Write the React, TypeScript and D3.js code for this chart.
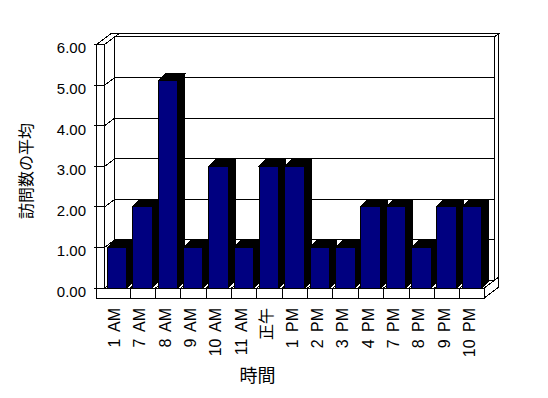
import React, { useEffect, useRef } from 'react';
import * as d3 from 'd3';

const categories = ['1 AM', '7 AM', '8 AM', '9 AM', '10 AM', '11 AM', '正午', '1 PM', '2 PM', '3 PM', '4 PM', '7 PM', '8 PM', '9 PM', '10 PM'];
const visits = [1, 2, 5.1, 1, 3, 1, 3, 3, 1, 1, 2, 2, 1, 2, 2];
const yTicks = [0, 1, 2, 3, 4, 5, 6];
const xTitle = '時間';
const yTitle = '訪問数の平均';

export default function App() {
  const svgRef = useRef<SVGSVGElement | null>(null);

  useEffect(() => {
    const svg = d3.select(svgRef.current);
    svg.selectAll('*').remove();

    const width = 548;
    const height = 398;
    svg.attr('width', width).attr('height', height);

    // front plane of the 3d box
    const x0 = 104.8;
    const x1 = 484.3;
    const wallX = 96.7; // outer face of the side wall
    const floorH = 10; // thickness of the floor slab
    const KX = 10; // depth offset to back wall
    const KY = 7.5;
    const T = 0.4; // wall thickness, in depth units
    const BX = 7; // bar depth
    const BY = 7;

    const x = d3.scaleBand<string>().domain(categories).range([x0, x1]).paddingInner(0.23).paddingOuter(0.1);
    const y = d3.scaleLinear().domain([0, 6]).range([288, 44.4]);
    const y0 = y(0);
    const yTop = y(6);

    const P = (px: number, py: number, z: number): [number, number] => [px + z * KX, py - z * KY];
    const poly = (pts: [number, number][]) => 'M' + pts.map((p) => p.join(',')).join('L') + 'Z';

    const g = svg.append('g').attr('shape-rendering', 'crispEdges');
    const face = (pts: [number, number][], fill = '#ffffff') =>
      g.append('path').attr('d', poly(pts)).attr('fill', fill).attr('stroke', '#000').attr('stroke-width', 1);

    // back wall
    const bwBottom = y0 + floorH;
    face([P(wallX, yTop, 1), P(x1, yTop, 1), P(x1, bwBottom, 1), P(wallX, bwBottom, 1)]);
    face([P(wallX, yTop, 1), P(x1, yTop, 1), P(x1, yTop, 1 + T), P(wallX, yTop, 1 + T)]);
    face([P(x1, yTop, 1), P(x1, yTop, 1 + T), P(x1, bwBottom, 1 + T), P(x1, bwBottom, 1)]);

    // side wall
    face([P(x0, yTop, 0), P(x0, yTop, 1), P(x0, y0, 1), P(x0, y0, 0)]);
    face([P(wallX, yTop, 0), P(x0, yTop, 0), P(x0, yTop, 1 + T), P(wallX, yTop, 1 + T)]);
    face([P(wallX, yTop, 0), P(x0, yTop, 0), P(x0, bwBottom, 0), P(wallX, bwBottom, 0)]);

    // floor
    face([P(x0, y0, 0), P(x1, y0, 0), P(x1, y0, 1), P(x0, y0, 1)]);
    face([P(x1, y0, 0), P(x1, y0, 1 + T), P(x1, bwBottom, 1 + T), P(x1, bwBottom, 0)]);
    face([P(wallX, y0, 0), P(x1, y0, 0), P(x1, bwBottom, 0), P(wallX, bwBottom, 0)]);

    // gridlines and value ticks
    yTicks.forEach((t) => {
      const yy = y(t);
      const line = (a: [number, number], b: [number, number]) =>
        g.append('line').attr('x1', a[0]).attr('y1', a[1]).attr('x2', b[0]).attr('y2', b[1]).attr('stroke', '#000');
      line([wallX - 3, yy], [x0, yy]);
      if (t > 0 && t < 6) {
        line(P(x0, yy, 0), P(x0, yy, 1));
        line(P(x0, yy, 1), P(x1, yy, 1));
      }
    });

    // category dividers
    const step = x.step();
    d3.range(1, categories.length).forEach((i) => {
      const xx = x0 + i * step;
      g.append('line').attr('x1', xx).attr('y1', y0).attr('x2', xx).attr('y2', bwBottom).attr('stroke', '#000');
      const a = P(xx, y0, 0);
      const b = P(xx, y0, 1);
      g.append('line').attr('x1', a[0]).attr('y1', a[1]).attr('x2', b[0]).attr('y2', b[1]).attr('stroke', '#000');
    });

    // bars, left to right so each covers its neighbour's side
    const bw = x.bandwidth();
    categories.forEach((c, i) => {
      const bx = x(c) as number;
      const by = y(visits[i]);
      face([[bx, by], [bx + bw, by], [bx + bw + BX, by - BY], [bx + BX, by - BY]], '#000');
      face([[bx + bw, by], [bx + bw + BX, by - BY], [bx + bw + BX, y0 - BY], [bx + bw, y0]], '#000');
      face([[bx, by], [bx + bw, by], [bx + bw, y0], [bx, y0]], '#000080');
    });

    // value labels
    svg
      .append('g')
      .selectAll('text')
      .data(yTicks)
      .enter()
      .append('text')
      .attr('x', 86)
      .attr('y', (d) => y(d) + 9)
      .attr('text-anchor', 'end')
      .attr('font-family', 'Liberation Sans, Arial, sans-serif')
      .attr('font-size', 15)
      .text((d) => d.toFixed(2));

    // category labels
    svg
      .append('g')
      .selectAll('text')
      .data(categories)
      .enter()
      .append('text')
      .attr('transform', (d) => `translate(${(x(d) as number) + bw / 2 + 3},308) rotate(-90)`)
      .attr('text-anchor', 'end')
      .attr('font-family', 'Liberation Sans, Noto Sans CJK JP, sans-serif')
      .attr('font-size', 16)
      .attr('word-spacing', 3)
      .text((d) => d);

    svg
      .append('text')
      .attr('x', 257.5)
      .attr('y', 382)
      .attr('text-anchor', 'middle')
      .attr('font-family', 'Noto Sans CJK JP, sans-serif')
      .attr('font-size', 18)
      .text(xTitle);

    svg
      .append('text')
      .attr('transform', 'translate(32,171) rotate(-90)')
      .attr('text-anchor', 'middle')
      .attr('font-family', 'Noto Sans CJK JP, sans-serif')
      .attr('font-size', 16)
      .text(yTitle);
  }, []);

  return <svg ref={svgRef} style={{ position: 'absolute', left: 0, top: 0, background: '#fff' }} />;
}
